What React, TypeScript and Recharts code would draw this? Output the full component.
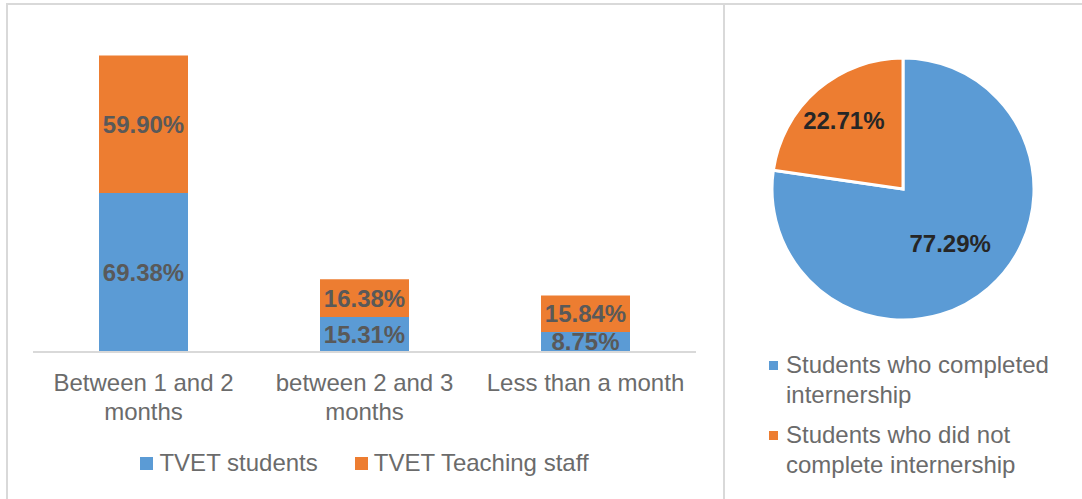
import { Bar, BarChart, Cell, LabelList, Legend, Pie, PieChart, XAxis, YAxis } from 'recharts'

const categories = ['Between 1 and 2 months', 'between 2 and 3 months', 'Less than a month']
const tickLines = [['Between 1 and 2', 'months'], ['between 2 and 3', 'months'], ['Less than a month']]
const studentValues = [69.38, 15.31, 8.75]
const staffValues = [59.9, 16.38, 15.84]
const seriesNames = ['TVET students', 'TVET Teaching staff']

const pieNames = ['Students who completed internership', 'Students who did not complete internership']
const pieValues = [77.29, 22.71]

const BLUE = '#5b9bd5'
const ORANGE = '#ed7d31'
const FONT = '"Liberation Sans", Arial, sans-serif'
const RADIAN = Math.PI / 180

const barData = categories.map((name, i) => ({
  name,
  students: studentValues[i],
  staff: staffValues[i],
}))
const pieData = pieNames.map((name, i) => ({ name, value: pieValues[i] }))

const pct = (v: any) => `${Number(v).toFixed(2)}%`

function CategoryTick({ x, y, payload }: any) {
  const lines = tickLines[payload.index] ?? [String(payload.value)]
  return (
    <text x={x} y={y + 39} textAnchor="middle" fill="#6b6b6b" fontSize={24} fontFamily={FONT}>
      {lines.map((line, i) => (
        <tspan key={i} x={x} dy={i === 0 ? 0 : 29}>
          {line}
        </tspan>
      ))}
    </text>
  )
}

function BarLegend({ payload }: any) {
  // keep the series order of the original chart
  const items = [...(payload ?? [])].sort(
    (a: any, b: any) => seriesNames.indexOf(a.value) - seriesNames.indexOf(b.value),
  )
  return (
    <div style={{ display: 'flex', justifyContent: 'center', gap: 37, fontFamily: FONT, fontSize: 24, color: '#6b6b6b' }}>
      {items.map((p: any) => (
        <div key={p.value} style={{ display: 'flex', alignItems: 'center', gap: 6, lineHeight: '30px' }}>
          <span style={{ width: 13, height: 13, background: p.color, display: 'inline-block' }} />
          <span>{p.value}</span>
        </div>
      ))}
    </div>
  )
}

function PieLegend({ payload }: any) {
  return (
    <div style={{ fontFamily: FONT, fontSize: 24, color: '#6b6b6b', lineHeight: '30px' }}>
      {(payload ?? []).map((p: any) => (
        <div key={p.value} style={{ display: 'flex', alignItems: 'flex-start', marginBottom: 10 }}>
          <span style={{ width: 9, height: 9, background: p.color, marginTop: 11, marginRight: 8, flex: 'none' }} />
          <span style={{ width: 290 }}>{p.value}</span>
        </div>
      ))}
    </div>
  )
}

const labelRadius = [0.55, 0.69]

function PieLabel({ cx, cy, midAngle, outerRadius, index, value }: any) {
  const r = outerRadius * labelRadius[index]
  const x = cx + r * Math.cos(-midAngle * RADIAN)
  const y = cy + r * Math.sin(-midAngle * RADIAN)
  return (
    <text x={x} y={y} textAnchor="middle" dominantBaseline="central" fill="#262626" fontSize={24} fontWeight="bold" fontFamily={FONT}>
      {pct(value)}
    </text>
  )
}

export default function App() {
  return (
    <div style={{ position: 'absolute', left: 0, top: 0, width: 1082, height: 499, background: '#fff', overflow: 'hidden' }}>
      <div style={{ position: 'absolute', left: 6, top: 3, width: 715, height: 520, border: '2px solid #d9d9d9' }} />
      <div style={{ position: 'absolute', left: 723, top: 3, width: 380, height: 520, border: '2px solid #d9d9d9' }} />

      <div style={{ position: 'absolute', left: 0, top: 0 }}>
        <BarChart width={722} height={499} data={barData} margin={{ top: 31, right: 26, left: 33, bottom: 37 }}>
          <XAxis
            dataKey="name"
            interval={0}
            height={70}
            tickLine={false}
            tickSize={0}
            tickMargin={0}
            axisLine={{ stroke: '#d9d9d9', strokeWidth: 2 }}
            tick={<CategoryTick />}
          />
          <YAxis hide domain={[0, 140]} />
          <Legend verticalAlign="bottom" height={40} wrapperStyle={{ top: 448, bottom: 'auto' }} content={<BarLegend />} />
          <Bar dataKey="students" name={seriesNames[0]} stackId="a" fill={BLUE} barSize={89} isAnimationActive={false}>
            <LabelList dataKey="students" position="center" formatter={pct} fill="#595959" fontSize={24} fontWeight="bold" fontFamily={FONT} />
          </Bar>
          <Bar dataKey="staff" name={seriesNames[1]} stackId="a" fill={ORANGE} barSize={89} isAnimationActive={false}>
            <LabelList dataKey="staff" position="center" formatter={pct} fill="#595959" fontSize={24} fontWeight="bold" fontFamily={FONT} />
          </Bar>
        </BarChart>
      </div>

      <div style={{ position: 'absolute', left: 723, top: 0 }}>
        <PieChart width={359} height={499} margin={{ top: 0, right: 0, left: 0, bottom: 0 }}>
          <Pie
            data={pieData}
            dataKey="value"
            nameKey="name"
            cx={180}
            cy={189}
            outerRadius={131}
            startAngle={90}
            endAngle={-270}
            stroke="#fff"
            strokeWidth={3}
            labelLine={false}
            label={PieLabel}
            isAnimationActive={false}
          >
            {pieData.map((_, i) => (
              <Cell key={i} fill={i === 0 ? BLUE : ORANGE} />
            ))}
          </Pie>
          <Legend
            verticalAlign="bottom"
            height={130}
            wrapperStyle={{ top: 350, left: 46, width: 310, bottom: 'auto' }}
            content={<PieLegend />}
          />
        </PieChart>
      </div>
    </div>
  )
}
